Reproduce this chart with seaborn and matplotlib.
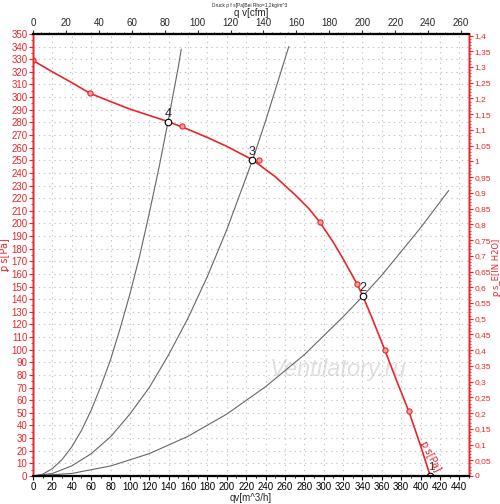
import numpy as np
import pandas as pd
import matplotlib
matplotlib.use("Agg")
import matplotlib.pyplot as plt
import seaborn as sns
from matplotlib.ticker import MultipleLocator, FuncFormatter

# Fan curve (red): q [m^3/h] vs p_s [Pa]
fan_q = [0, 20, 40, 58.8, 80, 100, 120, 139.5, 160, 180, 200, 226.5, 250, 270,
         285, 296, 310, 320, 334.7, 340.5, 350, 363, 375, 388, 400, 410]
fan_p = [329, 320, 311.5, 303, 296.5, 290.5, 285.5, 280.6, 274.5, 268, 261, 250.4, 237, 223,
         211.5, 201, 185, 172, 151.7, 142.4, 125, 100, 76, 51, 24, 0]

# measured points on the fan curve
meas_q = [0, 58.8, 153.3, 233, 296, 334.7, 363, 387.6]
meas_p = [329, 303, 277, 250, 201.4, 151.7, 100, 51.3]

# system curves (grey)
sys4_q = [0, 10, 20, 30, 40, 50, 60, 70, 80, 90, 100, 110, 120, 130, 139.5, 150, 153]
sys4_p = [0, 1.4, 5.8, 13, 23, 36, 52, 71, 92, 117, 144, 174, 208, 244, 281, 324, 338]
sys3_q = [0, 20, 40, 60, 80, 100, 120, 140, 160, 180, 200, 226.5, 240, 264]
sys3_p = [0, 2, 8, 17.6, 31, 49, 70, 96, 125, 158, 195, 250, 281, 340]
sys2_q = [0, 40, 80, 120, 160, 200, 240, 280, 320, 340.5, 360, 400, 429]
sys2_p = [0, 2, 7.9, 17.7, 31.4, 49, 70.7, 96, 126, 142.4, 159, 196.5, 226]

# operating points
op_labels = ["1", "2", "3", "4"]
op_q = [409.3, 340.5, 226.5, 139.5]
op_p = [0, 142.4, 250.4, 280.6]

RED = "#e8262a"
PA_PER_INH2O = 249.09
M3H_PER_CFM = 1.699

sns.set_style("white")
plt.rcParams['font.family'] = ['Liberation Sans', 'DejaVu Sans']

fig = plt.figure(figsize=(5.0, 5.04), dpi=100)
ax = fig.add_axes([0.066, 0.0556, 0.872, 0.877])

ax.set_xlim(0, 450)
ax.set_ylim(0, 350)
ax.xaxis.set_major_locator(MultipleLocator(20))
ax.xaxis.set_minor_locator(MultipleLocator(10))
ax.yaxis.set_major_locator(MultipleLocator(10))
ax.yaxis.set_minor_locator(MultipleLocator(5))
ax.grid(True, which="major", color="#c4c4c4", linestyle=(0, (1.2, 3.5)), linewidth=0.8)

for q, p in [(sys4_q, sys4_p), (sys3_q, sys3_p), (sys2_q, sys2_p)]:
    sns.lineplot(x=q, y=p, ax=ax, color="#666666", linewidth=0.8, sort=False, estimator=None)

sns.lineplot(x=fan_q, y=fan_p, ax=ax, color=RED, linewidth=1.2, sort=False, estimator=None)
ax.scatter(meas_q, meas_p, s=14, facecolor="#f4a0a0", edgecolor=RED, linewidth=0.8, zorder=4)

ax.scatter(op_q, op_p, s=22, facecolor="white", edgecolor="black", linewidth=0.8, zorder=5)
for lab, q, p in zip(op_labels, op_q, op_p):
    if lab == "1":
        ax.annotate(lab, (q, p), xytext=(1, 3), textcoords="offset points",
                    ha="center", va="bottom", fontsize=8)
    else:
        ax.annotate(lab, (q, p), xytext=(0, 1.5), textcoords="offset points",
                    ha="center", va="bottom", fontsize=9)

ax.text(410, 16, "ꝑ s[Pa]", color=RED, fontsize=7, rotation=-63,
        ha="center", va="center", family=['DejaVu Sans'])

ax.text(0.70, 0.24, "Ventilatory.ru", transform=ax.transAxes, fontsize=17,
        style="italic", color="#e0e0e0", ha="center", va="center", zorder=0)

ax.set_xlabel("qv[m^3/h]", fontsize=7, labelpad=1)
ax.set_ylabel("ꝑ s[Pa]", fontsize=7, color=RED, family=['DejaVu Sans'])
ax.yaxis.set_label_coords(-0.052, 0.5)
ax.tick_params(axis="x", which="major", labelsize=7, length=3, pad=1, colors="black")
ax.tick_params(axis="x", which="minor", length=1.5, colors="black")
ax.tick_params(axis="y", which="major", labelsize=7, length=3, pad=1, colors=RED)
ax.tick_params(axis="y", which="minor", length=1.5, colors=RED)

# right axis in inches of water
axr = ax.twinx()
axr.set_ylim(0, 350 / PA_PER_INH2O)
axr.yaxis.set_major_locator(MultipleLocator(0.05))
axr.yaxis.set_minor_locator(MultipleLocator(0.01))
axr.yaxis.set_major_formatter(FuncFormatter(
    lambda v, _: f"{v:.2f}".rstrip("0").rstrip(".").replace(".", ",")))
axr.tick_params(axis="y", which="major", labelsize=6, length=3, pad=1, colors=RED)
axr.tick_params(axis="y", which="minor", length=1.5, colors=RED)
axr.set_ylabel("ꝑ s_E[IN H2O]", fontsize=6, color=RED, family=['DejaVu Sans'])
axr.yaxis.set_label_coords(1.052, 0.47)

# top axis in cfm
axt = ax.twiny()
axt.set_xlim(0, 450 / M3H_PER_CFM)
axt.xaxis.set_major_locator(MultipleLocator(20))
axt.xaxis.set_minor_locator(MultipleLocator(5))
axt.tick_params(axis="x", which="major", labelsize=7, length=3, pad=1)
axt.tick_params(axis="x", which="minor", length=1.5)
axt.set_xlabel("q v[cfm]", fontsize=7, labelpad=2)
fig.text(0.5, 1 - 6 / 504, "Druck p f s[Pa]Bei Rho=1,2kg/m^3", fontsize=3.5,
         ha="center", va="center")

for a in (ax, axr, axt):
    a.spines["left"].set_color(RED)
    a.spines["right"].set_color(RED)
    a.spines["top"].set_color("black")
    a.spines["bottom"].set_color("black")
    a.spines["top"].set_linewidth(1.5)
    a.spines["bottom"].set_linewidth(1.5)
    a.spines["left"].set_linewidth(1.0)
    a.spines["right"].set_linewidth(1.0)

fig.savefig("out.png", dpi=100)
